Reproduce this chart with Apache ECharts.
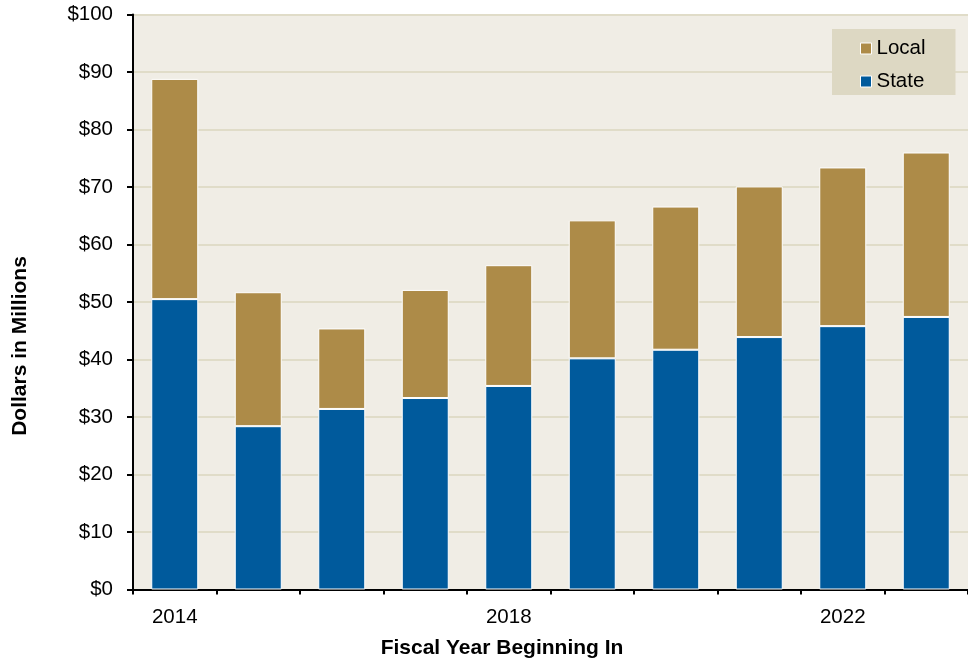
<!DOCTYPE html>
<html>
<head>
<meta charset="utf-8">
<script src="https://cdn.jsdelivr.net/npm/echarts@6/dist/echarts.min.js"></script>
<style>
html,body{margin:0;padding:0;background:#fff;}
#chart{width:968px;height:662px;}
</style>
</head>
<body>
<div id="chart"></div>
<script>
const years = ['2014','2015','2016','2017','2018','2019','2020','2021','2022','2023'];
const stateValues = [50.5, 28.4, 31.4, 33.3, 35.4, 40.2, 41.7, 43.9, 45.8, 47.4];
const localValues = [38.3, 23.3, 14.0, 18.8, 21.0, 24.0, 24.9, 26.2, 27.6, 28.6];
const yTicks = [0,10,20,30,40,50,60,70,80,90,100];

const FONT = '"Liberation Sans", Arial, sans-serif';
const chart = echarts.init(document.getElementById('chart'), null, {renderer:'canvas'});
chart.setOption({
  animation: false,
  backgroundColor: '#ffffff',
  textStyle: {fontFamily: FONT},
  grid: {left: 133, top: 14.5, width: 844, height: 575, show: true, backgroundColor: '#F0EDE5', borderWidth: 0, containLabel: false},
  legend: {
    data: ['Local','State'],
    orient: 'vertical',
    left: 832, top: 29,
    backgroundColor: '#DDD8C3',
    padding: [9, 30, 3, 28],
    itemGap: 12,
    itemWidth: 11, itemHeight: 11,
    icon: 'rect',
    itemStyle: {borderColor: '#ffffff', borderWidth: 1},
    textStyle: {fontSize: 20.5, color: '#000', fontFamily: FONT}
  },
  xAxis: {
    type: 'category',
    data: years,
    boundaryGap: true,
    axisLine: {show: true, lineStyle: {color: '#000', width: 2}},
    axisTick: {show: true, interval: 0, length: 5, lineStyle: {color: '#000', width: 2}},
    axisLabel: {interval: 3, fontSize: 20.5, color: '#000', margin: 17, fontFamily: FONT},
    splitLine: {show: false}
  },
  yAxis: {
    type: 'value',
    min: 0, max: 100, interval: 10,
    axisLine: {show: true, lineStyle: {color: '#000', width: 2}},
    axisTick: {show: true, length: 6, lineStyle: {color: '#000', width: 2}},
    axisLabel: {fontSize: 20.5, color: '#000', margin: 20, fontFamily: FONT,
      formatter: v => yTicks.includes(v) ? '$' + v : ''},
    splitLine: {show: true, lineStyle: {color: '#E0DCC8', width: 2}}
  },
  graphic: [
    {type: 'text', x: 502, y: 648, style: {text: 'Fiscal Year Beginning In', font: 'bold 21px ' + FONT, fill: '#000', align: 'center', verticalAlign: 'middle'}},
    {type: 'text', rotation: Math.PI/2, x: 20, y: 346, style: {text: 'Dollars in Millions', font: 'bold 21px ' + FONT, fill: '#000', align: 'center', verticalAlign: 'middle'}}
  ],
  series: [
    {name: 'State', type: 'bar', stack: 'total', data: stateValues, barWidth: 47,
      itemStyle: {color: '#005A9C', borderColor: '#ffffff', borderWidth: 1}},
    {name: 'Local', type: 'bar', stack: 'total', data: localValues, barWidth: 47,
      itemStyle: {color: '#AD8B48', borderColor: '#ffffff', borderWidth: 1}}
  ]
});
</script>
</body>
</html>
